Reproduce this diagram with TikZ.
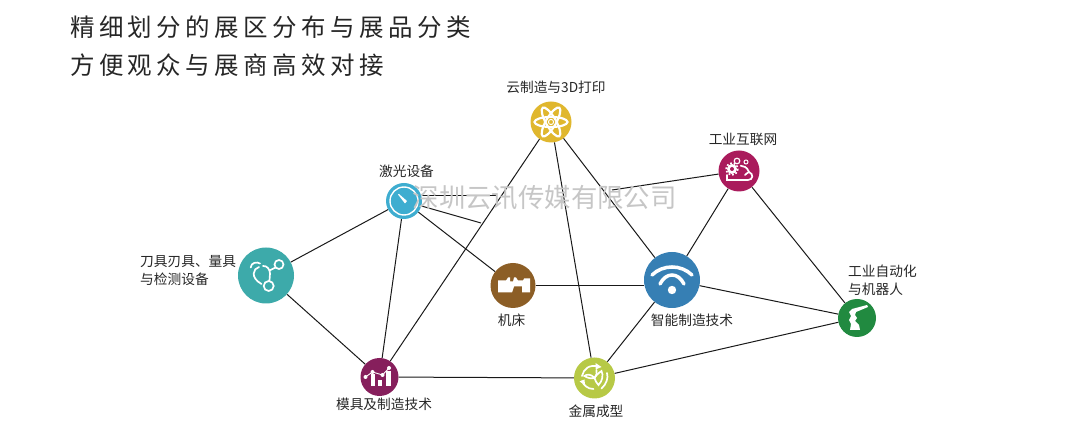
\documentclass[tikz,border=0pt]{standalone}
\usepackage{fontspec}
\setmainfont{Noto Sans CJK SC}
\newfontfamily\titlefont[LetterSpace=18]{Noto Sans CJK SC}
\definecolor{wm}{RGB}{198,198,198}
\definecolor{cyun}{RGB}{224,183,46}
\definecolor{cjg}{RGB}{62,173,208}
\definecolor{cdj}{RGB}{61,170,170}
\definecolor{cmj}{RGB}{134,31,92}
\definecolor{cjc}{RGB}{140,94,38}
\definecolor{czn}{RGB}{54,127,180}
\definecolor{cjs}{RGB}{183,201,70}
\definecolor{chl}{RGB}{170,27,92}
\definecolor{czd}{RGB}{33,138,64}
\tikzset{
  hub/.style={circle,inner sep=0pt,minimum size=#1},
  link/.style={draw=black!90,line width=1pt},
  lab/.style={font=\fontsize{13.7}{18}\selectfont,text=black!85,inner sep=0pt,align=left},
  ttl/.style={font=\titlefont\fontsize{24.5}{28}\selectfont,text=black!85,inner sep=0pt,anchor=west},
  ic/.style={draw=white,line width=1.7pt,fill=none,line cap=round}
}
\begin{document}
\begin{tikzpicture}[x=1pt,y=-1pt]
\useasboundingbox (0,0) rectangle (1080,443);
\coordinate (c1) at (496,195.5);
\coordinate (c2) at (481,223);
\coordinate (c3) at (612,190);
% hubs
\node[hub=41pt,fill=cyun] (yun) at (551,122) {};
\node[hub=36pt,fill=cjg] (jg) at (404,201) {};
\node[hub=56pt,fill=cdj] (dj) at (266,275.5) {};
\node[hub=38pt,fill=cmj] (mj) at (379.5,377) {};
\node[hub=45pt,fill=cjc] (jc) at (513,285.5) {};
\node[hub=56pt,fill=czn] (zn) at (672,280) {};
\node[hub=41pt,fill=cjs] (js) at (594.5,378) {};
\node[hub=41pt,fill=chl] (hl) at (739,171) {};
\node[hub=38pt,fill=czd] (zd) at (857,318) {};
% connectors
\draw[link] (dj)--(jg);
\draw[link] (dj)--(mj);
\draw[link] (jg)--(mj);
\draw[link] (jg)--(jc);
\draw[link] (jg.east |- c1)--(c1);
\draw[link] (jg)--(c2);
\draw[link] (hl)--(c3);
\draw[link] (yun)--(mj);
\draw[link] (yun)--(js);
\draw[link] (yun)--(zn);
\draw[link] (hl)--(zn);
\draw[link] (hl)--(zd);
\draw[link] (jc)--(jc -| zn.west);
\draw[link] (zn)--(zd);
\draw[link] (zn)--(js);
\draw[link] (js)--(zd);
\draw[link] (mj)--(js);
% labels
\node[ttl] (t1) at (70,27) {精细划分的展区分布与展品分类};
\node[ttl] (t2) at (70,65) {方便观众与展商高效对接};
\node[lab] (lyun) at (556,87) {云制造与3D打印};
\node[lab] (ljg) at (406.5,171) {激光设备};
\node[lab,anchor=west] (ldj) at (140,271) {刀具刃具、量具\\与检测设备};
\node[lab] (lmj) at (384,404.5) {模具及制造技术};
\node[lab] (ljc) at (511.5,320.5) {机床};
\node[lab] (lzn) at (692,320.5) {智能制造技术};
\node[lab] (ljs) at (596,411) {金属成型};
\node[lab] (lhl) at (743,139) {工业互联网};
\node[lab,anchor=west] (lzd) at (848,280.5) {工业自动化\\与机器人};
% icons placed relative to hubs
\begin{scope}[shift={(yun)}]
  \foreach \a in {0,60,120}{\draw[white,line width=2.2pt,rotate=\a] (0,0) ellipse (16.5 and 5);}
  \fill[cyun] (0,0) circle (3.8);
  \draw[white,line width=1pt] (0,0) circle (2.6);
\end{scope}
\begin{scope}[shift={(jg)}]
  \draw[white,line width=1.4pt] (0,0) circle (14);
  \fill[white] (-6,-6.5) -- (-5,-7) -- (3,0) -- (1,2.5) -- cycle;
\end{scope}
\begin{scope}[shift={(dj)}]
  \draw[ic] (13,-11) circle (4.5);
  \draw[ic] (2.7,10.5) circle (5);
  \draw[ic] (-15.3,-8) .. controls (-15,-13) and (-9,-14) .. (-6,-12);
  \draw[ic] (-7,-8.5) .. controls (-13,-7) and (-16,2) .. (-4.5,8.5);
  \draw[ic] (-3,-9.5) .. controls (1,-10) and (4,-6) .. (4,-2) -- (3.5,5);
  \draw[ic] (3.5,-5) -- (9.5,-8);
\end{scope}
\begin{scope}[shift={(mj)}]
  \fill[white] (-9,-3) rectangle (-4.5,9);
  \fill[white] (-1.5,3) rectangle (2.5,9);
  \fill[white] (6.5,-6) rectangle (11.5,9);
  \draw[white,line width=.9pt] (-14,0)--(-7,-5)--(3,-2)--(9.5,-9);
  \foreach \p in {(-14,0),(-7,-5),(3,-2),(9.5,-9)} \fill[white] \p circle (2);
\end{scope}
\begin{scope}[shift={(jc)}]
  \fill[white] (-15,-5) -- (-7,-5) -- (-5,-8) -- (-3,-8) -- (-3,-4) -- (0,-4) -- (1,-8) -- (3,-8) -- (5,-5) -- (10,-5) -- (11,-7) -- (17,-7) -- (17,7) -- (9,7) -- (9,1) -- (1,1) -- (-1,7) -- (-15,7) -- cycle;
\end{scope}
\begin{scope}[shift={(zn)}]
  \draw[white,line width=3.5pt,line cap=round] (-20,-5) .. controls (-9,-15.7) and (9,-15.7) .. (20,-5);
  \draw[white,line width=3.5pt,line cap=round] (-12,4) .. controls (-6,-8) and (6,-8) .. (12,4);
  \fill[white] (0,10) circle (4.2);
\end{scope}
\begin{scope}[shift={(js)}]
  \draw[ic] (-12.5,-2) .. controls (-11,-9) and (-5,-14) .. (4,-11.5);
  \fill[white] (1,-15) -- (7,-11) -- (1,-8.5) -- cycle;
  \draw[ic] (12.5,-5) .. controls (14,0) and (12,6) .. (7,10.5);
  \draw[ic] (-12.5,3) .. controls (-11,7) and (-7,11) .. (-1,11);
  \fill[white] (-15,3.5) -- (-10,1.5) -- (-9.5,7) -- cycle;
  \draw[ic] (0,0) .. controls (-3,-4) and (-8,-4) .. (-10,-2) .. controls (-7,0) and (-3,1) .. (0,0);
  \draw[ic] (0,0) .. controls (2,-3) and (3,-6) .. (2,-8);
  \draw[ic] (0,0) .. controls (1,3) and (2,5) .. (4,7) .. controls (8,3) and (9,-3) .. (7,-7) .. controls (4,-5) and (1,-2) .. (0,0);
\end{scope}
\begin{scope}[shift={(hl)}]
  \fill[white] (-7,-2) circle (5);
  \draw[white,line width=1.6pt,dash pattern=on 1.8pt off 1.8pt] (-7,-2) circle (5.8);
  \fill[chl] (-7,-2) circle (2);
  \draw[white,line width=1.2pt] (-2,-10) circle (2.8);
  \draw[white,line width=1pt] (7,-9) circle (2);
  \draw[ic] (-12,4) -- (-12,9) -- (9,9) .. controls (14,9) and (15,3) .. (10,1) .. controls (8,-4) and (5,-5) .. (1.7,-5.3);
  \draw[ic] (10,1) .. controls (8,2) and (7,3) .. (6,4);
\end{scope}
\begin{scope}[shift={(zd)}]
  \fill[white] (10,-13) -- (11,-11) -- (-1,-6) -- (-2,-3) -- (0,0) -- (-2,3) -- (2,7) -- (3,12) -- (-7,12) -- (-6,6) -- (-8,2) -- (-6,-2) -- (-8,-6) -- (-5,-9) -- cycle;
\end{scope}
% watermark on top
\node[font=\fontsize{26.4}{30}\selectfont,text=wm,inner sep=0pt,anchor=west] (wm) at (412.5,198) {深圳云讯传媒有限公司};
\end{tikzpicture}
\end{document}
